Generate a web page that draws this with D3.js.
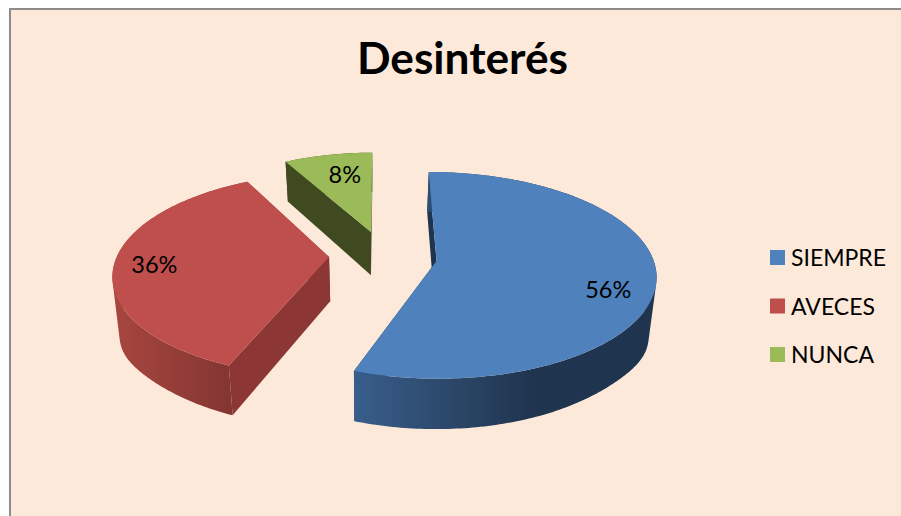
<!DOCTYPE html>
<html><head><meta charset="utf-8">
<script src="https://cdn.jsdelivr.net/npm/d3@7"></script>
<style>html,body{margin:0;padding:0;background:#fff}svg{display:block}text{font-family:Lato,"Open Sans",sans-serif;fill:#000}</style>
</head><body><div id="c"></div>
<script>
const title = "Desinterés";
const categories = ["SIEMPRE", "AVECES", "NUNCA"];
const values = [56, 36, 8];
const topColors = ["#4F81BD", "#BE4F4D", "#9BBB59"];

const W = 901, H = 516;
const svg = d3.select("#c").append("svg").attr("width", W).attr("height", H);
const defs = svg.append("defs");
function grad(id, x1, x2, stops){
  const g = defs.append("linearGradient").attr("id", id).attr("gradientUnits","userSpaceOnUse")
    .attr("x1",x1).attr("x2",x2).attr("y1",0).attr("y2",0);
  stops.forEach(s => g.append("stop").attr("offset",s[0]).attr("stop-color",s[1]));
}
grad("gBlue",353,535,[[0,"#395E8C"],[0.55,"#2B4768"],[1,"#1F344E"]]);
grad("gRed",112,236,[[0,"#A8463F"],[1,"#823531"]]);
grad("gGreen",280,375,[[0,"#3F4A20"],[1,"#3F4A20"]]);

// frame
svg.append("rect").attr("x",10).attr("y",9).attr("width",W).attr("height",H).attr("fill","#FDE9D9").attr("stroke","#8C8C8C").attr("stroke-width",2);

// perspective projection of the pie plane
const x0 = 387, y0 = 265, A = 222, B = 102.3, K = 0.1;
const project = (X, Y) => { const w = 1 - K*Y; return [x0 + A*X/w, y0 + B*Y/w]; };
const drop = p => {
  const d = 50 - (370 - p[1])*0.05 + 12*Math.pow(Math.abs(p[0] - 384)/273, 14);
  return [p[0] + 0.027*(370 - p[0]), p[1] + d];
};

const pie = d3.pie().sort(null).value(d => d);
const arcs = pie(values);
const line = d3.line();

// exploded placement of each slice: apex and rim centre on the plane, radius,
// small corrections of the two edge angles (degrees), label nudge (px)
const placement = [
  {apex:[0.224,-0.039],  rim:[0.207,0],       r:1,     turn:[0,-1.6],   nudge:[2,10]},
  {apex:[-0.263,-0.0788],rim:[-0.245,-0.004], r:0.985, turn:[2.6,2.3],  nudge:[-7,-5]},
  {apex:[-0.0745,-0.333],rim:[-0.0745,-0.333],r:0.9,   turn:[0,0],      nudge:[8,4]}
];
const sideFill = ["url(#gBlue)", "url(#gRed)", "url(#gGreen)"];
const edgeFill = ["#1F344E", "#8C3735", "#3F4A20"];

const rad = d => d*Math.PI/180;
function slicePoints(i){
  const a = arcs[i], pl = placement[i];
  const s = a.startAngle + rad(pl.turn[0]), e = a.endAngle + rad(pl.turn[1]);
  const n = Math.max(8, Math.round((e - s) * 60));
  const rim = d3.range(n + 1).map(j => {
    const t = s + (e - s) * j / n;
    return project(pl.rim[0] + pl.r*Math.sin(t), pl.rim[1] - pl.r*Math.cos(t));
  });
  return {rim, apex: project(pl.apex[0], pl.apex[1])};
}
const order = [2, 1, 0];
order.forEach(i => {
  const {rim, apex} = slicePoints(i);
  const g = svg.append("g");
  const first = rim[0], last = rim[rim.length-1];
  // radial walls
  g.append("path").attr("d", line([apex, first, drop(first), drop(apex)])+"Z").attr("fill", edgeFill[i]);
  g.append("path").attr("d", line([apex, last, drop(last), drop(apex)])+"Z").attr("fill", edgeFill[i]);
  // outer wall: same-orientation quads in one path, so they merge without seams
  const wall = rim.slice(1).map((p, j) => {
    const q = [rim[j], p, drop(p), drop(rim[j])];
    return line(d3.polygonArea(q) < 0 ? q.reverse() : q) + "Z";
  }).join("");
  g.append("path").attr("d", wall).attr("fill", sideFill[i]);
  // top
  g.append("path").attr("d", line([apex].concat(rim))+"Z").attr("fill", topColors[i]);
  // percent
  const a = arcs[i], pl = placement[i], mid = (a.startAngle + a.endAngle)/2;
  const p = project(pl.rim[0] + 0.78*pl.r*Math.sin(mid), pl.rim[1] - 0.78*pl.r*Math.cos(mid));
  g.append("text").attr("x",p[0]+pl.nudge[0]).attr("y",p[1]+8+pl.nudge[1]).attr("text-anchor","middle").attr("font-size",23.5)
    .text(Math.round(values[i]/d3.sum(values)*100)+"%");
});

svg.append("text").attr("x",462.5).attr("y",74).attr("text-anchor","middle").attr("font-size",44).attr("font-weight",700)
  .attr("textLength",211).attr("lengthAdjust","spacingAndGlyphs").text(title);

const legendY = d3.scalePoint().domain(categories).range([257.5, 354.5]);
const lg = svg.selectAll("g.l").data(categories).join("g").attr("class","l")
  .attr("transform", d => `translate(770,${legendY(d)})`);
lg.append("rect").attr("y",-7.5).attr("width",15).attr("height",15).attr("fill",(d,i)=>topColors[i]);
lg.append("text").attr("x",21).attr("y",8.5).attr("font-size",23).text(d=>d);
</script></body></html>
